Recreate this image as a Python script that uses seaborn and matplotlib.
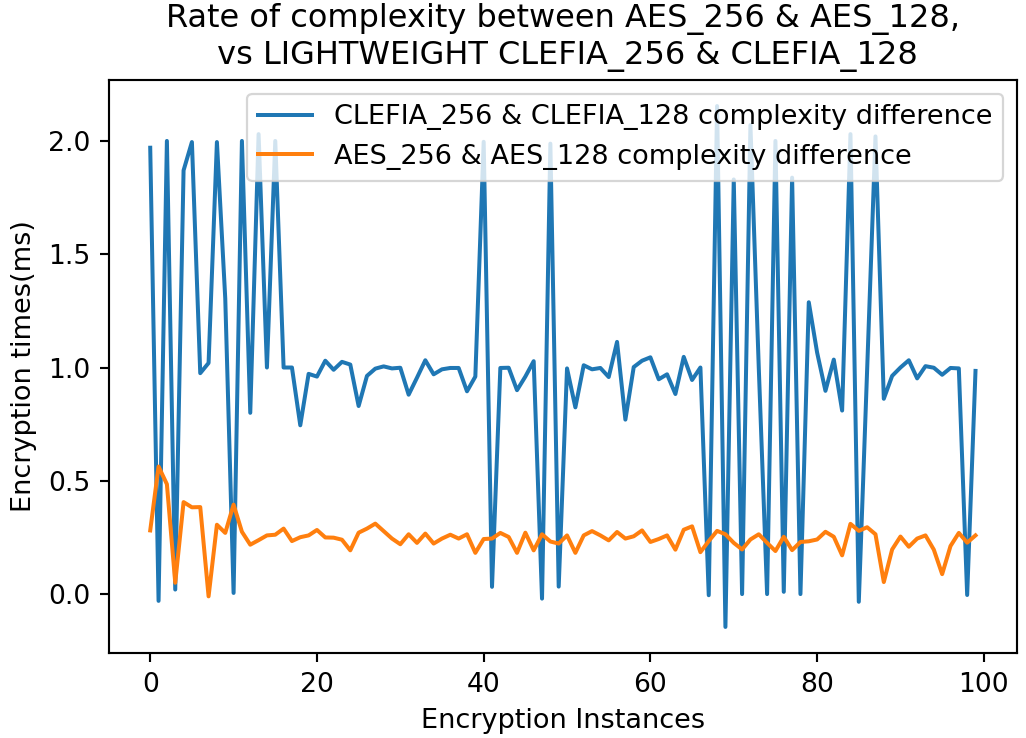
import numpy as np
import matplotlib
matplotlib.use('Agg')
import matplotlib.pyplot as plt
import pandas as pd
import seaborn as sns

# differences, one value per encryption instance (0..99)
clefia_diff = [
    1.97, -0.03, 2.0, 0.02, 1.87, 1.995, 0.975, 1.02, 1.995, 1.305,
    0.005, 2.0, 0.80, 2.03, 1.0, 2.0, 1.0, 1.0, 0.745, 0.972,
    0.96, 1.03, 0.99, 1.025, 1.013, 0.83, 0.963, 0.995, 1.005, 0.996,
    0.999, 0.88, 0.955, 1.032, 0.97, 0.992, 0.998, 0.998, 0.895, 0.96,
    1.996, 0.032, 0.998, 0.999, 0.90, 0.96, 1.028, -0.02, 1.988, 0.033,
    0.996, 0.824, 1.01, 0.992, 0.998, 0.958, 1.113, 0.77, 1.002, 1.03,
    1.045, 0.948, 0.97, 0.883, 1.047, 0.945, 1.0, -0.005, 2.154, -0.145,
    1.83, 0.0, 2.07, 1.0, 0.0, 2.0, 0.01, 1.838, 0.0, 1.288,
    1.066, 0.897, 1.035, 0.81, 2.03, -0.034, 0.99, 2.02, 0.862, 0.963,
    1.0, 1.032, 0.952, 1.006, 0.999, 0.968, 0.998, 0.996, -0.004, 0.985,
]

aes_diff = [
    0.281, 0.563, 0.485, 0.05, 0.406, 0.383, 0.384, -0.01, 0.306, 0.27,
    0.395, 0.275, 0.218, 0.238, 0.259, 0.262, 0.289, 0.234, 0.251, 0.259,
    0.283, 0.25, 0.249, 0.240, 0.193, 0.271, 0.289, 0.311, 0.278, 0.245,
    0.220, 0.264, 0.226, 0.267, 0.223, 0.245, 0.262, 0.245, 0.264, 0.182,
    0.243, 0.245, 0.270, 0.252, 0.182, 0.271, 0.193, 0.264, 0.232, 0.223,
    0.259, 0.182, 0.259, 0.278, 0.259, 0.237, 0.274, 0.245, 0.255, 0.281,
    0.230, 0.243, 0.259, 0.196, 0.284, 0.299, 0.185, 0.234, 0.279, 0.264,
    0.226, 0.197, 0.241, 0.264, 0.226, 0.190, 0.253, 0.194, 0.230, 0.233,
    0.241, 0.275, 0.253, 0.171, 0.310, 0.279, 0.295, 0.264, 0.053, 0.197,
    0.254, 0.209, 0.245, 0.259, 0.196, 0.088, 0.212, 0.270, 0.227, 0.259,
]

instances = list(range(len(clefia_diff)))

data = pd.DataFrame({'instance': instances,
                     'clefia': clefia_diff,
                     'aes': aes_diff})

# the reference looks like mpl defaults drawn about 1.2x larger
plt.rcParams.update({
    'font.size': 12.2,
    'xtick.labelsize': 12,
    'ytick.labelsize': 12,
    'lines.linewidth': 1.8,
    'axes.linewidth': 0.96,
    'xtick.major.size': 4.2,
    'ytick.major.size': 4.2,
    'xtick.major.width': 0.96,
    'ytick.major.width': 0.96,
    'xtick.major.pad': 4.2,
    'ytick.major.pad': 4.2,
    'axes.labelpad': 4.8,
    'axes.titlepad': 7.2,
})

fig, ax = plt.subplots(figsize=(1026 / 160, 738 / 160), dpi=160)
fig.subplots_adjust(left=0.1062, right=0.991, top=0.8916, bottom=0.1152)

sns.lineplot(x='instance', y='clefia', data=data, ax=ax,
             label='CLEFIA_256 & CLEFIA_128 complexity difference')
sns.lineplot(x='instance', y='aes', data=data, ax=ax,
             label='AES_256 & AES_128 complexity difference')

ax.set_title('Rate of complexity between AES_256 & AES_128,\n'
             ' vs LIGHTWEIGHT CLEFIA_256 & CLEFIA_128', fontsize=14.4)
ax.set_xlabel('Encryption Instances')
ax.set_ylabel('Encryption times(ms)')
ax.legend(loc='upper right', fontsize=12.2)

plt.savefig('out.png', dpi=160)
